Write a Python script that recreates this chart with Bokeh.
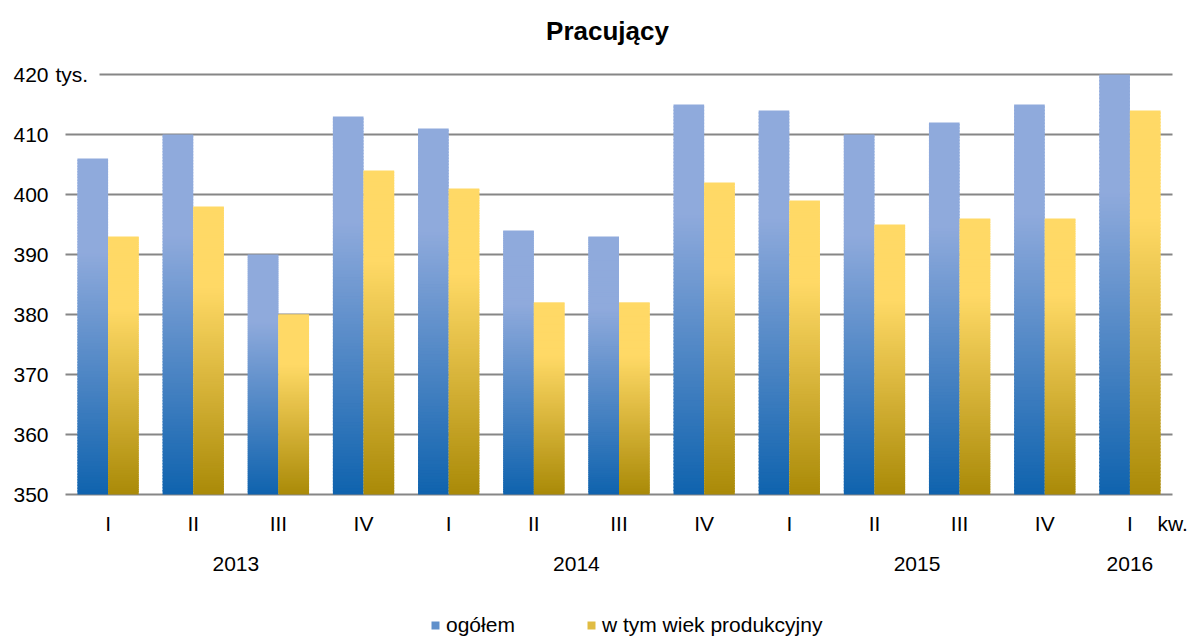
import numpy as np
from bokeh.plotting import figure
from bokeh.models import Range1d, Legend, LegendItem, ColumnDataSource
from bokeh.core.properties import value
from bokeh.embed import file_html
from bokeh.resources import INLINE

# ---- data ----
title = "Pracujący"
quarters = ["I", "II", "III", "IV", "I", "II", "III", "IV", "I", "II", "III", "IV", "I"]
years = ["2013", "2014", "2015", "2016"]
year_quarter_counts = [4, 4, 4, 1]
ogolem = [406, 410, 390, 413, 411, 394, 393, 415, 414, 410, 412, 415, 420]
produkcyjny = [393, 398, 380, 404, 401, 382, 382, 402, 399, 395, 396, 396, 414]
y_ticks = [350, 360, 370, 380, 390, 400, 410, 420]
series_names = ["ogółem", "w tym wiek produkcyjny"]
unit_y = "tys."
unit_x = "kw."

Y0, Y1 = 350, 420
FONT = "Liberation Sans"
FS = "21px"
BAR_W = 0.36
N_SLICES = 120

BLUE_DARK = (15, 99, 174)
BLUE_LIGHT = (143, 170, 220)
GOLD_DARK = (170, 138, 8)
GOLD_LIGHT = (255, 217, 102)


def hexc(c):
    return "#%02x%02x%02x" % tuple(int(round(v)) for v in c)


def lerp(a, b, s):
    return tuple(a[i] + (b[i] - a[i]) * s for i in range(3))


def gradient_source(values, side, dark, light, n=N_SLICES, ov=0.25):
    L, R, B, T, C = [], [], [], [], []
    for i, v in enumerate(values):
        c = i + 0.5
        left = c - BAR_W if side == 0 else c
        right = c if side == 0 else c + BAR_W
        edges = np.linspace(Y0, v, n + 1)
        for k in range(n):
            t = (k + 0.5) / n
            s = min(t / 0.72, 1.0)
            L.append(left); R.append(right)
            B.append(edges[k]); T.append(min(edges[k + 1] + ov, v))
            C.append(hexc(lerp(dark, light, s)))
    return ColumnDataSource(dict(left=L, right=R, bottom=B, top=T, color=C))


n_cat = len(quarters)
W, H = 1192, 637
X_LEFT_PX, X_RIGHT_PX = 65, 1172   # page x of the category span
Y_TOP_PX, Y_BOT_PX = 74, 494       # page y of 420 and 350
PX = (X_RIGHT_PX - X_LEFT_PX) / n_cat
PY = (Y_BOT_PX - Y_TOP_PX) / (Y1 - Y0)


def dx(px):  # page x -> data x
    return (px - X_LEFT_PX) / PX


def dy(py):  # page y -> data y
    return Y0 - (py - Y_BOT_PX) / PY


p = figure(width=W, height=H, output_backend="svg", toolbar_location=None,
           x_axis_location=None, y_axis_location=None,
           x_range=Range1d(dx(0), dx(W)), y_range=Range1d(dy(H), dy(0)),
           min_border=0)
p.outline_line_color = None
p.background_fill_color = "white"
p.xgrid.visible = False
p.ygrid.visible = False

txt = dict(text_font=value(FONT), text_font_size=value(FS), text_color="#000000")

# title
p.text(x=[dx(607)], y=[dy(30)], text=[title], text_align="center", text_baseline="middle",
       text_font=value(FONT), text_font_size=value("26px"), text_font_style="bold", text_color="#000000")

# gridlines across the categories (the top one leaves room for the unit)
grid_x0 = [0.0] * len(y_ticks)
grid_x0[-1] = dx(99)
p.segment(x0=grid_x0, x1=n_cat, y0=y_ticks, y1=y_ticks, line_color="#868686", line_width=2)

# value-axis labels
p.text(x=[dx(48)] * len(y_ticks), y=y_ticks, text=[str(t) for t in y_ticks],
       text_align="right", text_baseline="middle", **txt)
p.text(x=[dx(55)], y=[Y1], text=[unit_y], text_align="left", text_baseline="middle", **txt)

# bars with gradient
src_a = gradient_source(ogolem, 0, BLUE_DARK, BLUE_LIGHT)
src_b = gradient_source(produkcyjny, 1, GOLD_DARK, GOLD_LIGHT)
rends = []
for src in (src_a, src_b):
    rends.append(p.quad(left="left", right="right", bottom="bottom", top="top", source=src,
                        fill_color="color", line_color=None))

# category labels
centers = [i + 0.5 for i in range(n_cat)]
yq = dy(523)
p.text(x=centers, y=[yq] * n_cat, text=quarters, text_align="center", text_baseline="middle", **txt)
p.text(x=[dx(1157)], y=[yq], text=[unit_x], text_align="left", text_baseline="middle", **txt)

year_pos = []
start = 0
for cnt in year_quarter_counts:
    year_pos.append(start + cnt / 2.0)
    start += cnt
p.text(x=year_pos, y=[dy(563)] * len(years), text=years, text_align="center", text_baseline="middle", **txt)

# legend (swatch takes a mid-gradient colour of each series)
mid = int(N_SLICES * 0.45)
legend = Legend(items=[LegendItem(label=series_names[0], renderers=[rends[0]], index=mid),
                       LegendItem(label=series_names[1], renderers=[rends[1]], index=mid)],
                orientation="horizontal", location=(430, 0),
                glyph_width=10, glyph_height=10, label_standoff=6, spacing=71,
                padding=0, margin=0, border_line_color=None, background_fill_alpha=0,
                label_text_font=FONT, label_text_font_size=FS, label_text_color="#000000")
p.add_layout(legend, "center")

open("out.html", "w").write(file_html(p, INLINE))
